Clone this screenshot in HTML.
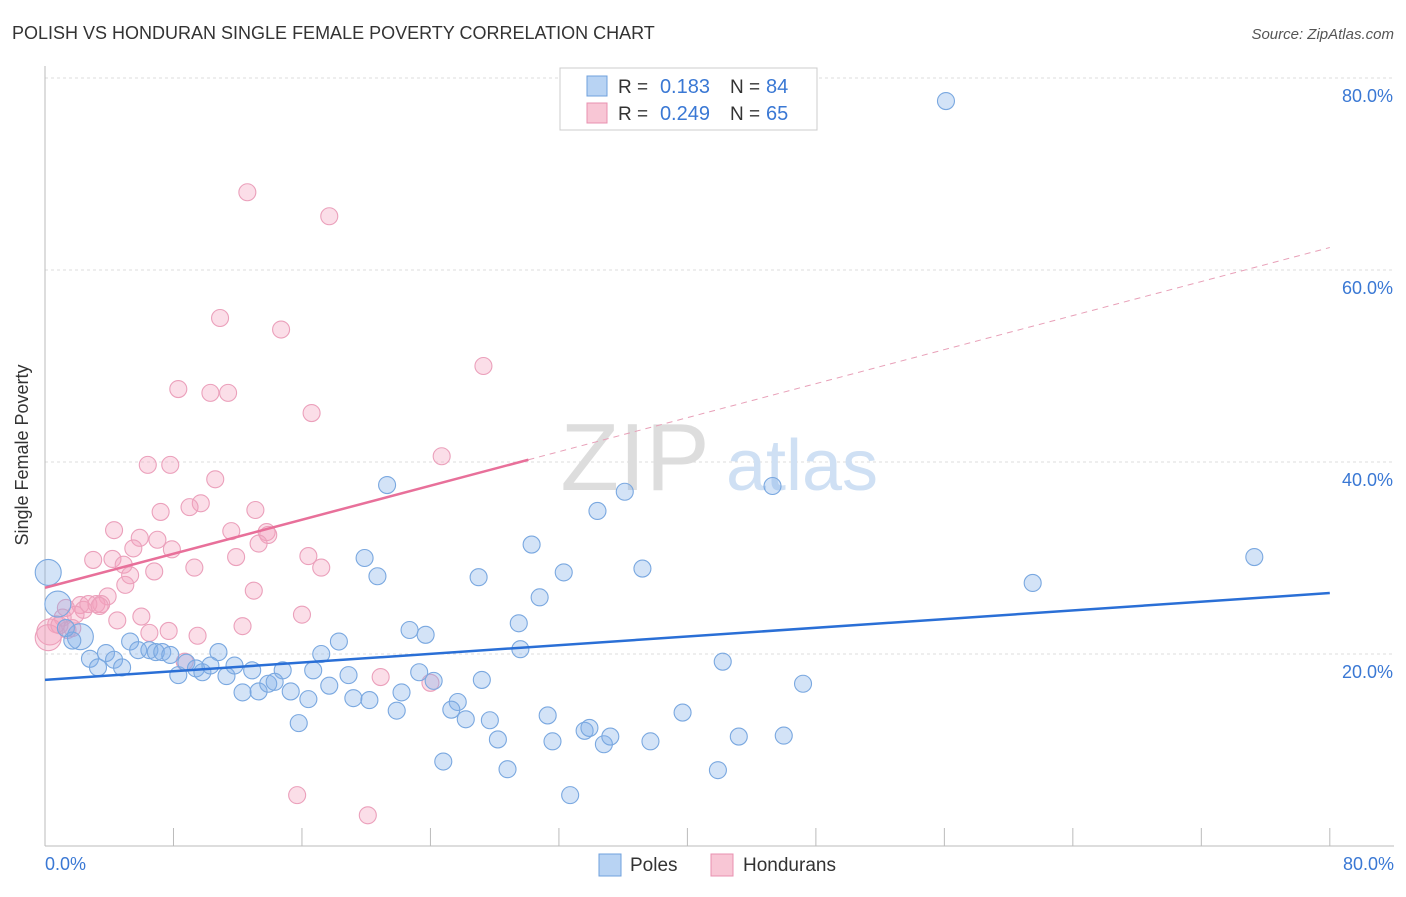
<!DOCTYPE html>
<html><head><meta charset="utf-8"><style>
body{margin:0;background:#fff;font-family:"Liberation Sans",sans-serif;}
svg text{font-family:"Liberation Sans",sans-serif;}
</style></head><body>
<svg id="chart" width="1406" height="892">
<text x="12" y="39" font-size="18" fill="#333">POLISH VS HONDURAN SINGLE FEMALE POVERTY CORRELATION CHART</text>
<text x="1394" y="39" font-size="15" fill="#555" font-style="italic" text-anchor="end">Source: ZipAtlas.com</text>
<g id="grid"></g>
<text x="635" y="490" font-size="96" fill="#ddd" font-family="Liberation Serif" text-anchor="middle">ZIP</text>
<text x="802" y="490" font-size="72" fill="#cfe0f4" text-anchor="middle">atlas</text>
<g id="marks"></g>
<text x="28" y="455" font-size="18" fill="#333" text-anchor="middle" transform="rotate(-90 28 455)">Single Female Poverty</text>
<text x="45" y="870" font-size="18" fill="#3a78d4">0.0%</text>
<text x="1394" y="870" font-size="18" fill="#3a78d4" text-anchor="end">80.0%</text>
<g>
<rect x="560" y="68" width="257" height="62" fill="#fff" stroke="#ccc"/>
<rect x="587" y="76" width="20" height="20" fill="#b8d3f3" stroke="#6fa0dc"/>
<rect x="587" y="103" width="20" height="20" fill="#f8c6d5" stroke="#e890b0"/>
<text x="618" y="93" font-size="19" fill="#333">R =</text>
<text x="710" y="93" font-size="20" fill="#3a78d4" text-anchor="end">0.183</text>
<text x="730" y="93" font-size="19" fill="#333">N =</text>
<text x="766" y="93" font-size="20" fill="#3a78d4">84</text>
<text x="618" y="120" font-size="19" fill="#333">R =</text>
<text x="710" y="120" font-size="20" fill="#3a78d4" text-anchor="end">0.249</text>
<text x="730" y="120" font-size="19" fill="#333">N =</text>
<text x="766" y="120" font-size="20" fill="#3a78d4">65</text>
</g>
<g>
<rect x="599" y="854" width="22" height="22" fill="#b8d3f3" stroke="#6fa0dc"/>
<text x="630" y="871" font-size="19" fill="#333">Poles</text>
<rect x="711" y="854" width="22" height="22" fill="#f8c6d5" stroke="#e890b0"/>
<text x="743" y="871" font-size="19" fill="#333">Hondurans</text>
</g>
</svg>
<script>
const xTicks=[0,10,20,30,40,50,60,70,80];
const yTicks=[20,40,60,80];
const yTickLabels=["20.0%","40.0%","60.0%","80.0%"];
const blueX=[56.1,21.3,36.1,45.3,34.4,75.3,30.3,19.9,20.7,27.0,32.3,37.2,61.5,30.8,29.5,22.7,23.7,29.6,18.3,17.2,10.8,5.3,3.8,2.8,3.3,4.3,4.8,5.8,6.5,6.9,7.3,7.8,8.3,8.8,9.4,9.8,10.3,11.3,11.8,12.9,14.8,16.7,18.9,12.3,13.3,13.9,14.3,15.3,16.4,17.7,19.2,20.2,21.9,22.2,23.3,24.2,25.7,25.3,26.2,27.2,27.7,28.2,28.8,31.3,31.6,32.7,33.6,33.9,34.8,35.2,37.7,39.7,41.9,42.2,43.2,46.0,47.2,15.8,24.8,0.2,0.8,2.2,1.7,1.3];
const blueY=[77.6,37.6,36.9,37.5,34.9,30.1,31.4,30.0,28.1,28.0,28.5,28.9,27.4,25.9,23.2,22.5,22.0,20.5,21.3,20.0,20.2,21.3,20.1,19.5,18.6,19.4,18.6,20.4,20.4,20.2,20.2,19.9,17.8,19.1,18.5,18.1,18.8,17.7,18.8,18.3,18.3,18.3,17.8,16.0,16.1,16.9,17.1,16.1,15.3,16.7,15.4,15.2,14.1,16.0,18.1,17.2,15.0,14.2,13.2,17.3,13.1,11.1,8.0,13.6,10.9,5.3,12.0,12.3,10.6,11.4,10.9,13.9,7.9,19.2,11.4,11.5,16.9,12.8,8.8,28.5,25.2,21.8,21.4,22.7];
const blueBig=[79,80,81];
const pinkX=[12.6,17.7,10.9,14.7,27.3,8.3,10.3,11.4,16.6,24.7,6.4,7.8,10.6,9.7,9.0,7.2,13.1,4.3,5.9,11.6,7.0,13.8,13.9,13.3,7.9,5.5,4.2,3.0,4.9,11.9,16.4,9.3,6.8,17.2,5.3,5.0,13.0,3.9,2.2,2.4,3.2,3.5,2.7,3.4,1.3,1.9,16.0,6.0,4.5,12.3,6.5,7.7,9.5,1.1,0.7,1.4,0.3,0.2,8.7,20.9,24.0,15.7,20.1,0.9,1.7];
const pinkY=[68.1,65.6,55.0,53.8,50.0,47.6,47.2,47.2,45.1,40.6,39.7,39.7,38.2,35.7,35.3,34.8,35.0,32.9,32.1,32.8,31.9,32.7,32.4,31.5,30.9,31.0,29.9,29.8,29.3,30.1,30.2,29.0,28.6,29.0,28.2,27.2,26.6,26.0,25.1,24.6,25.2,25.2,25.2,25.0,24.8,24.1,24.1,23.9,23.5,22.9,22.2,22.4,21.9,23.8,23.1,22.5,22.3,21.7,19.2,17.6,17.0,5.3,3.2,23.0,22.7];
const pinkBig=[56,57];
const blueTrend=[17.3,26.35];
const pinkTrend=[26.9,0.443,30.1];
const X=v=>45+v*16.06, Y=v=>846-v*9.6;
const NS='http://www.w3.org/2000/svg';
const grid=document.getElementById('grid'), marks=document.getElementById('marks');
function mk(tag,attrs,parent){const e=document.createElementNS(NS,tag);for(const k in attrs)e.setAttribute(k,attrs[k]);parent.appendChild(e);return e;}
yTicks.forEach((t,i)=>{
 const l=mk('line',{x1:45,x2:1394,y1:Y(t),y2:Y(t),stroke:'#ddd','stroke-dasharray':'3,3'},grid);
 
 
 const tx=mk('text',{x:1393,y:Y(t)+24,'font-size':18,fill:'#3a78d4','text-anchor':'end'},grid);
 tx.textContent=yTickLabels[i];
 
 
});
const ax=mk('line',{x1:45,x2:1394,y1:846,y2:846,stroke:'#bbb'},grid);


const ay=mk('line',{x1:45,x2:45,y1:66,y2:846,stroke:'#bbb'},grid);


for(let v=0;v<=80;v+=8){
 const t=mk('line',{x1:X(v),x2:X(v),y1:828,y2:846,stroke:'#bbb'},grid);
 
 
}
function dots(xs,ys,big,fill,stroke,name){
 xs.forEach((x,i)=>{
  const c=mk('circle',{cx:X(x),cy:Y(ys[i]),r:big.includes(i)?13:8.5,fill:fill,stroke:stroke,'stroke-width':1.1},marks);
  
  
 });
}
dots(pinkX,pinkY,pinkBig,'rgba(244,160,188,0.35)','#eba0bb','honduran-point');
dots(blueX,blueY,blueBig,'rgba(130,175,232,0.35)','#7aa8e0','polish-point');
const bl=mk('line',{x1:X(0),y1:Y(blueTrend[0]),x2:X(80),y2:Y(blueTrend[1]),stroke:'#2a6fd6','stroke-width':2.5},marks);


const pf=x=>pinkTrend[0]+pinkTrend[1]*x;
const pl=mk('line',{x1:X(0),y1:Y(pf(0)),x2:X(pinkTrend[2]),y2:Y(pf(pinkTrend[2])),stroke:'#e8709a','stroke-width':2.5},marks);


const pd=mk('line',{x1:X(pinkTrend[2]),y1:Y(pf(pinkTrend[2])),x2:X(80),y2:Y(pf(80)),stroke:'#e8a0b8','stroke-width':1,'stroke-dasharray':'6,5'},marks);


</script>
</body></html>
